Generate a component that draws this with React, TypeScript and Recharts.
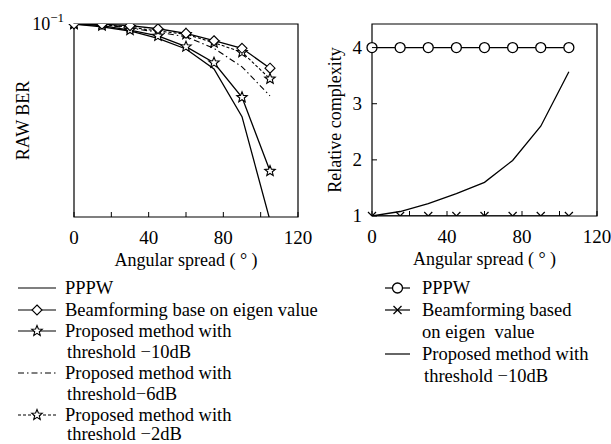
import { Line, LineChart, ReferenceArea, XAxis, YAxis } from "recharts";

const FONT = "'Liberation Serif', 'Times New Roman', Tinos, 'DejaVu Serif', serif";

// angular spread (degrees) where every curve is sampled
const angles = [0, 15, 30, 45, 60, 75, 90, 105];

// left panel: RAW BER (log scale)
const pppwBer = [0.1, 0.0966, 0.092, 0.0843, 0.0742, 0.0585, 0.0331, 0.0096];
const beamBer = [0.1, 0.0997, 0.098, 0.0945, 0.0895, 0.0819, 0.0748, 0.059];
const th10Ber = [0.1, 0.098, 0.093, 0.0867, 0.0763, 0.063, 0.0417, 0.0173];
const th6Ber = [0.1, 0.099, 0.0954, 0.0906, 0.086, 0.0748, 0.06, 0.0424];
const th2Ber = [0.1, 0.0995, 0.0962, 0.092, 0.0885, 0.08, 0.0714, 0.052];

// right panel: relative complexity
const pppwCx = [4, 4, 4, 4, 4, 4, 4, 4];
const beamCx = [1, 1, 1, 1, 1, 1, 1, 1];
const th10Cx = [1, 1.08, 1.22, 1.4, 1.6, 1.99, 2.6, 3.57];

const xTicks = [0, 20, 40, 60, 80, 100, 120];
const xLabelTicks = [0, 40, 80, 120];
const berYTicks = [0.1];
const cxYTicks = [1, 2, 3, 4];

const xTitle = "Angular spread ( ° )";

const berData = angles.map((a, i) => ({
  angle: a,
  pppw: pppwBer[i],
  beam: beamBer[i],
  th10: th10Ber[i],
  th6: th6Ber[i],
  th2: th2Ber[i],
}));

const cxData = angles.map((a, i) => ({
  angle: a,
  pppw: pppwCx[i],
  beam: beamCx[i],
  th10: th10Cx[i],
}));

const txt = (size: number) => ({ fontFamily: FONT, fontSize: size });

function starPoints(cx: number, cy: number, ro = 5.5, ri = 2.4) {
  const pts: string[] = [];
  for (let k = 0; k < 10; k++) {
    const r = k % 2 === 0 ? ro : ri;
    const a = -Math.PI / 2 + (k * Math.PI) / 5;
    pts.push(`${cx + r * Math.cos(a)},${cy + r * Math.sin(a)}`);
  }
  return pts.join(" ");
}

function StarDot(props: any) {
  const { cx, cy, index } = props;
  if (cx == null || cy == null) return null;
  return <polygon key={`s${index}`} points={starPoints(cx, cy)} fill="#fff" stroke="#000" strokeWidth={1.1} />;
}

function DiamondDot(props: any) {
  const { cx, cy, index } = props;
  if (cx == null || cy == null) return null;
  const r = 5;
  return (
    <polygon
      key={`d${index}`}
      points={`${cx},${cy - r} ${cx + r},${cy} ${cx},${cy + r} ${cx - r},${cy}`}
      fill="#fff"
      stroke="#000"
      strokeWidth={1.1}
    />
  );
}

function CircleDot(props: any) {
  const { cx, cy, index } = props;
  if (cx == null || cy == null) return null;
  return <circle key={`c${index}`} cx={cx} cy={cy} r={5} fill="#fff" stroke="#000" strokeWidth={1.3} />;
}

function CrossDot(props: any) {
  const { cx, cy, index } = props;
  if (cx == null || cy == null) return null;
  const r = 4;
  return (
    <g key={`x${index}`} stroke="#000" strokeWidth={1.2}>
      <line x1={cx - r} y1={cy - r} x2={cx + r} y2={cy + r} />
      <line x1={cx - r} y1={cy + r} x2={cx + r} y2={cy - r} />
    </g>
  );
}

function XTick(props: any) {
  const { x, y, payload } = props;
  const v = payload.value;
  return (
    <g>
      <line x1={x} x2={x} y1={y} y2={y - 5} stroke="#000" />
      {xLabelTicks.includes(v) && (
        <text x={x} y={y + 27} textAnchor="middle" style={txt(19)} fill="#000">
          {v}
        </text>
      )}
    </g>
  );
}

function BerYTick(props: any) {
  const { x, y } = props;
  return (
    <text x={x - 10} y={y + 6} textAnchor="end" style={txt(18)} fill="#000">
      <tspan>10</tspan>
      <tspan dy={-8} style={txt(13)}>
        −1
      </tspan>
    </text>
  );
}

function CxYTick(props: any) {
  const { x, y, payload } = props;
  return (
    <g>
      <line x1={x} x2={x + 5} y1={y} y2={y} stroke="#000" />
      <text x={x - 10} y={y + 6} textAnchor="end" style={txt(19)} fill="#000">
        {payload.value}
      </text>
    </g>
  );
}

function xLabel(p: any) {
  const vb = p.viewBox;
  return (
    <text x={vb.x + vb.width / 2} y={vb.y + 49} textAnchor="middle" style={txt(18)} fill="#000">
      {xTitle}
    </text>
  );
}

function yLabel(text: string, dx: number) {
  return (p: any) => {
    const vb = p.viewBox;
    const cx = vb.x + dx;
    const cy = vb.y + vb.height / 2;
    return (
      <text
        x={cx}
        y={cy}
        transform={`rotate(-90 ${cx} ${cy})`}
        textAnchor="middle"
        dominantBaseline="central"
        style={txt(18)}
        fill="#000"
      >
        {text}
      </text>
    );
  };
}

type LegendRow = { y: number; icon?: string; text: string; x?: number };

const leftLegend: LegendRow[] = [
  { y: 288, icon: "solid", text: "PPPW" },
  { y: 310, icon: "diamond", text: "Beamforming base on eigen value" },
  { y: 331, icon: "star", text: "Proposed method with" },
  { y: 352, text: "threshold −10dB", x: 67 },
  { y: 373, icon: "dashdot", text: "Proposed method with" },
  { y: 394, text: "threshold−6dB", x: 67 },
  { y: 415, icon: "dotstar", text: "Proposed method with" },
  { y: 434, text: "threshold −2dB", x: 67 },
];

const rightLegend: LegendRow[] = [
  { y: 288, icon: "circle", text: "PPPW" },
  { y: 310, icon: "cross", text: "Beamforming based" },
  { y: 332, text: "on eigen  value" },
  { y: 354, icon: "solid", text: "Proposed method with" },
  { y: 376, text: "threshold −10dB", x: 424 },
];

function LegendIcon({ kind, x1, x2, y }: { kind: string; x1: number; x2: number; y: number }) {
  const mid = (x1 + x2) / 2;
  const dash = kind === "dashdot" ? "6 3 1.5 3" : kind === "dotstar" ? "3 2" : undefined;
  return (
    <g>
      <line x1={x1} x2={x2} y1={y} y2={y} stroke="#000" strokeWidth={1.2} strokeDasharray={dash} />
      {kind === "diamond" && <DiamondDot cx={mid} cy={y} index={0} />}
      {(kind === "star" || kind === "dotstar") && <StarDot cx={mid} cy={y} index={0} />}
      {kind === "circle" && <CircleDot cx={mid} cy={y} index={0} />}
      {kind === "cross" && <CrossDot cx={mid} cy={y} index={0} />}
    </g>
  );
}

function Legends() {
  return (
    <svg width={611} height={444} style={{ position: "absolute", left: 0, top: 0, pointerEvents: "none" }}>
      {leftLegend.map((r, i) => (
        <g key={`l${i}`}>
          {r.icon && <LegendIcon kind={r.icon} x1={18} x2={56} y={r.y} />}
          <text x={r.x ?? 65} y={r.y + 6} style={{ ...txt(18.5), whiteSpace: "pre" }} fill="#000">
            {r.text}
          </text>
        </g>
      ))}
      {rightLegend.map((r, i) => (
        <g key={`r${i}`}>
          {r.icon && <LegendIcon kind={r.icon} x1={385} x2={410} y={r.y} />}
          <text x={r.x ?? 422} y={r.y + 6} style={{ ...txt(18.5), whiteSpace: "pre" }} fill="#000">
            {r.text}
          </text>
        </g>
      ))}
    </svg>
  );
}

export default function App() {
  return (
    <div style={{ position: "absolute", left: 0, top: 0, width: 611, height: 444, background: "#fff", fontFamily: FONT }}>
      <div style={{ position: "absolute", left: 0, top: 0 }}>
        <LineChart width={315} height={275} data={berData} margin={{ top: 24, right: 17, bottom: 8, left: 14 }}>
          <XAxis
            dataKey="angle"
            type="number"
            domain={[0, 120]}
            ticks={xTicks}
            interval={0}
            axisLine={false}
            tickLine={false}
            tickSize={0}
            tickMargin={0}
            tick={<XTick />}
            height={50}
            label={{ content: xLabel }}
          />
          <YAxis
            type="number"
            scale="log"
            domain={[0.01, 0.1]}
            allowDataOverflow
            ticks={berYTicks}
            axisLine={false}
            tickLine={false}
            tickSize={0}
            tickMargin={0}
            tick={<BerYTick />}
            width={60}
            label={{ content: yLabel("RAW BER", 9) }}
          />
          <ReferenceArea x1={0} x2={120} y1={0.01} y2={0.1} fill="none" stroke="#000" strokeWidth={1.2} />
          <Line dataKey="pppw" stroke="#000" strokeWidth={1.3} dot={false} isAnimationActive={false} />
          <Line dataKey="th6" stroke="#000" strokeWidth={1.1} strokeDasharray="6 3 1.5 3" dot={false} isAnimationActive={false} />
          <Line dataKey="th2" stroke="#000" strokeWidth={1.1} strokeDasharray="3 2" dot={StarDot} isAnimationActive={false} />
          <Line dataKey="th10" stroke="#000" strokeWidth={1.3} dot={StarDot} isAnimationActive={false} />
          <Line dataKey="beam" stroke="#000" strokeWidth={1.3} dot={DiamondDot} isAnimationActive={false} />
        </LineChart>
      </div>
      <div style={{ position: "absolute", left: 305, top: 0 }}>
        <LineChart width={306} height={275} data={cxData} margin={{ top: 24, right: 14, bottom: 9, left: 17 }}>
          <XAxis
            dataKey="angle"
            type="number"
            domain={[0, 120]}
            ticks={xTicks}
            interval={0}
            axisLine={false}
            tickLine={false}
            tickSize={0}
            tickMargin={0}
            tick={<XTick />}
            height={50}
            label={{ content: xLabel }}
          />
          <YAxis
            type="number"
            domain={[1, 4.42]}
            allowDataOverflow
            ticks={cxYTicks}
            interval={0}
            axisLine={false}
            tickLine={false}
            tickSize={0}
            tickMargin={0}
            tick={<CxYTick />}
            width={50}
            label={{ content: yLabel("Relative complexity", 13) }}
          />
          <ReferenceArea x1={0} x2={120} y1={1} y2={4.42} fill="none" stroke="#000" strokeWidth={1.2} />
          <Line dataKey="th10" stroke="#000" strokeWidth={1.3} dot={false} isAnimationActive={false} />
          <Line dataKey="beam" stroke="#000" strokeWidth={1.3} dot={CrossDot} isAnimationActive={false} />
          <Line dataKey="pppw" stroke="#000" strokeWidth={1.3} dot={CircleDot} isAnimationActive={false} />
        </LineChart>
      </div>
      <Legends />
    </div>
  );
}
